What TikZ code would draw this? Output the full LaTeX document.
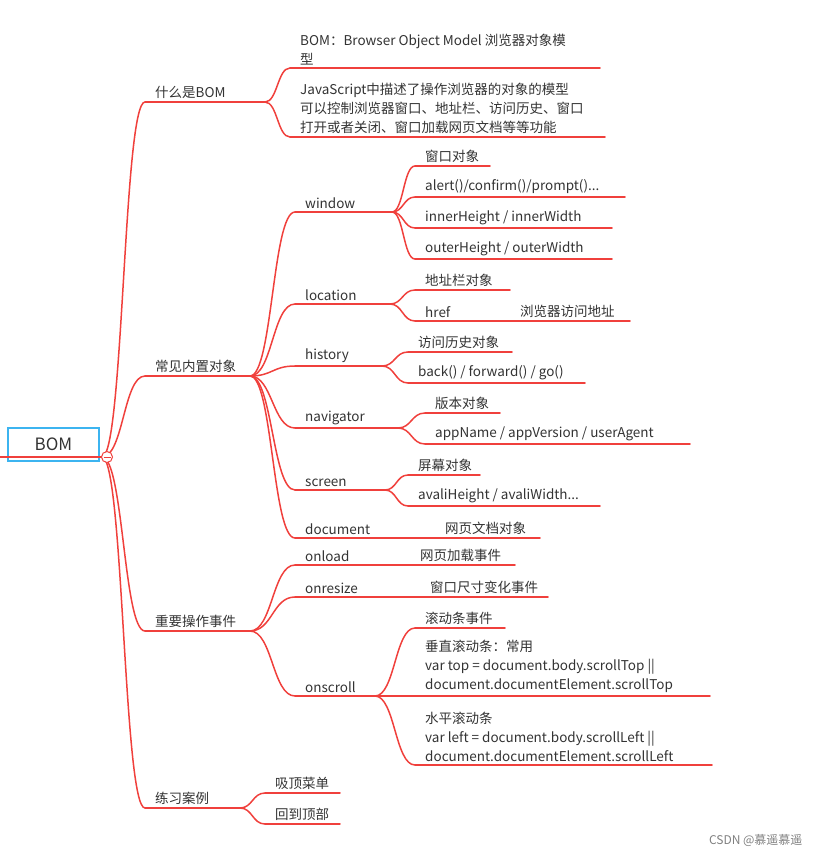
\documentclass[tikz,border=0pt]{standalone}
\usepackage{fontspec}
\setmainfont{Noto Sans CJK SC}
\usetikzlibrary{calc}

\definecolor{mapred}{HTML}{F0403C}
\definecolor{rootblue}{HTML}{3CB4F0}
\definecolor{inkgray}{HTML}{333333}

\tikzset{
  branch/.style = {line width=1.5pt, color=mapred, line cap=round},
  leaf text/.style = {anchor=south west, inner sep=1pt, text=inkgray,
    font=\fontsize{13.5}{19}\selectfont, align=left},
}

% an underlined topic: name, left x, right x, line y, text
\newcommand{\topic}[5]{
  \coordinate (#1) at (#2, #4);
  \coordinate (#1-e) at (#3, #4);
  \draw [branch] (#1) -- (#1-e);
  \node [leaf text] (#1-t) at ($(#1) + (9, -2)$) {#5};
}
% connector from parent end to child start
\newcommand{\link}[2]{
  \draw [branch] let \p1 = (#1), \p2 = (#2), \n1 = {0.5*(\x2-\x1)} in
    (#1) .. controls +(\n1, 0) and +(-\n1, 0) .. (#2);
}

\begin{document}
\begin{tikzpicture}[x=1pt, y=-1pt]

\useasboundingbox (0, 0) rectangle (822, 857);

% root

\node [draw=rootblue, line width=2pt, minimum width=91pt, minimum height=33pt,
  inner sep=0pt, text=inkgray, font=\fontsize{17}{20}\selectfont] (root) at (53.5, 444.5) {BOM};
\coordinate (root-e) at (102, 457);
\draw [branch] (0, 457) -- (root-e);

% first level

\topic{what}{145}{265}{102}{什么是BOM}
\topic{objs}{145}{250}{376}{常见内置对象}
\topic{evts}{145}{250}{631}{重要操作事件}
\topic{demo}{145}{240}{808}{练习案例}

\foreach \k in {what, objs, evts, demo}
  \link{root-e}{\k};

% what is BOM

\topic{def}{290}{600}{68}{BOM：Browser Object Model 浏览器对象模\\型}
\topic{desc}{290}{605}{137}{JavaScript中描述了操作浏览器的对象的模型\\可以控制浏览器窗口、地址栏、访问历史、窗口\\打开或者关闭、窗口加载网页文档等等功能}
\link{what-e}{def}
\link{what-e}{desc}

% built-in objects

\topic{win}{295}{392}{212}{window}
\topic{loc}{295}{390}{304}{location}
\topic{hist}{295}{382}{366}{history}
\topic{nav}{295}{398}{428}{navigator}
\topic{scr}{295}{385}{490}{screen}
\topic{doc}{295}{435}{538}{document}
\foreach \k in {win, loc, hist, nav, scr, doc}
  \link{objs-e}{\k};

\topic{winA}{415}{490}{166}{窗口对象}
\topic{winB}{415}{625}{197}{alert()/confirm()/prompt()...}
\topic{winC}{415}{612}{228}{innerHeight / innerWidth}
\topic{winD}{415}{612}{259}{outerHeight / outerWidth}
\foreach \k in {winA, winB, winC, winD}
  \link{win-e}{\k};

\topic{locA}{415}{510}{290}{地址栏对象}
\topic{locB}{415}{500}{321}{href}
\topic{locC}{510}{630}{321}{浏览器访问地址}
\link{loc-e}{locA}
\link{loc-e}{locB}
\link{locB-e}{locC}

\topic{histA}{408}{512}{352}{访问历史对象}
\topic{histB}{408}{585}{383}{back() / forward() / go()}
\link{hist-e}{histA}
\link{hist-e}{histB}

\topic{navA}{425}{500}{413}{版本对象}
\topic{navB}{425}{690}{444}{appName / appVersion / userAgent}
\link{nav-e}{navA}
\link{nav-e}{navB}

\topic{scrA}{408}{480}{475}{屏幕对象}
\topic{scrB}{408}{600}{506}{avaliHeight / avaliWidth...}
\link{scr-e}{scrA}
\link{scr-e}{scrB}

\topic{docA}{435}{540}{538}{网页文档对象}

% events

\topic{load}{295}{385}{565}{onload}
\topic{size}{295}{395}{597}{onresize}
\topic{scroll}{295}{375}{696}{onscroll}
\foreach \k in {load, size, scroll}
  \link{evts-e}{\k};

\topic{loadA}{410}{515}{565}{网页加载事件}
\link{load-e}{loadA}
\topic{sizeA}{420}{548}{597}{窗口尺寸变化事件}
\link{size-e}{sizeA}

\topic{scrollA}{415}{505}{628}{滚动条事件}
\topic{scrollB}{415}{710}{696}{垂直滚动条：常用\\var top = document.body.scrollTop ||\\document.documentElement.scrollTop}
\topic{scrollC}{415}{712}{765}{水平滚动条\\var left = document.body.scrollLeft ||\\document.documentElement.scrollLeft}
\foreach \k in {scrollA, scrollB, scrollC}
  \link{scroll-e}{\k};

% exercises

\topic{demoA}{265}{340}{793}{吸顶菜单}
\topic{demoB}{265}{340}{824}{回到顶部}
\link{demo-e}{demoA}
\link{demo-e}{demoB}

% collapse mark on top of the joints
\node [circle, draw=mapred, fill=white, line width=1pt, minimum size=11pt, inner sep=0pt] (fold) at (107, 457) {};
\draw [mapred, line width=1pt] ($(fold) + (-3.5, 0)$) -- ($(fold) + (3.5, 0)$);

\node [anchor=east, text=gray, font=\fontsize{12}{14}\selectfont] (mark) at (806, 840) {CSDN @慕遥慕遥};

\end{tikzpicture}
\end{document}
